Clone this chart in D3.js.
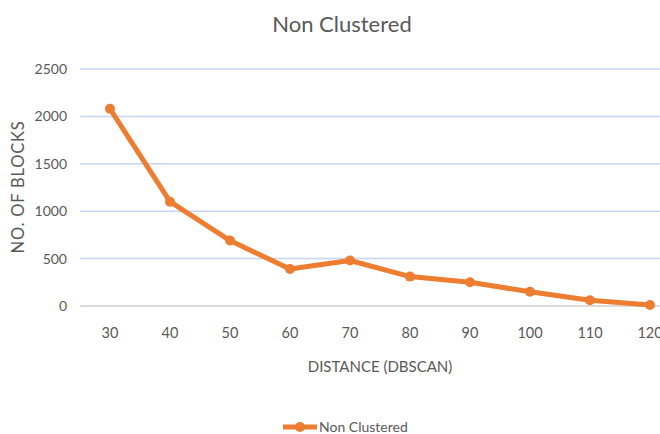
<!DOCTYPE html>
<html><head><meta charset="utf-8">
<script src="https://cdn.jsdelivr.net/npm/d3@7"></script>
<style>body{margin:0;background:#fff;} svg{display:block;} text{font-family:Lato,"Open Sans",sans-serif;fill:#595959;}</style>
</head><body>
<svg id="c" width="660" height="434"></svg>
<script>
const categories = [30,40,50,60,70,80,90,100,110,120];
const values = [2080,1100,690,390,480,310,250,150,60,10];
const yTicks = [0,500,1000,1500,2000,2500];
const seriesName = "Non Clustered";

const svg = d3.select("#c");
const color = "#ED7D31";
const x = d3.scalePoint().domain(categories).range([110,650]);
const y = d3.scaleLinear().domain([0,2500]).range([306,69]);

// gridlines
svg.append("g").selectAll("line").data(yTicks).join("line")
  .attr("x1",80).attr("x2",660)
  .attr("y1",d=>y(d)).attr("y2",d=>y(d))
  .attr("stroke",d=>d===0?"#d0d0d0":"#c7d4ef").attr("stroke-width",1.5);

// y tick labels
svg.append("g").selectAll("text").data(yTicks).join("text")
  .attr("x",67).attr("y",d=>y(d)).attr("dy","0.35em")
  .attr("text-anchor","end").attr("font-size",14).text(d=>d);

// x tick labels
svg.append("g").selectAll("text").data(categories).join("text")
  .attr("x",d=>x(d)).attr("y",333).attr("dy","0.35em")
  .attr("text-anchor","middle").attr("font-size",14.5).text(d=>d);

// line
const line = d3.line().x((d,i)=>x(categories[i])).y(d=>y(d));
svg.append("path").datum(values).attr("d",line)
  .attr("fill","none").attr("stroke",color).attr("stroke-width",5).attr("stroke-linejoin","round");
svg.append("g").selectAll("circle").data(values).join("circle")
  .attr("cx",(d,i)=>x(categories[i])).attr("cy",d=>y(d)).attr("r",5).attr("fill",color);

// title
svg.append("text").attr("x",342).attr("y",24).attr("dy","0.35em").attr("text-anchor","middle")
  .attr("font-size",22).text(seriesName);

// axis titles
svg.append("text").attr("transform","translate(18,187) rotate(-90)").attr("dy","0.35em")
  .attr("text-anchor","middle").attr("font-size",16.5).attr("letter-spacing",0.8).text("NO. OF BLOCKS");
svg.append("text").attr("x",380).attr("y",367).attr("dy","0.35em").attr("text-anchor","middle")
  .attr("font-size",15).text("DISTANCE (DBSCAN)");

// legend
const lg = svg.append("g");
lg.append("line").attr("x1",283).attr("x2",317).attr("y1",427).attr("y2",427).attr("stroke",color).attr("stroke-width",5);
lg.append("circle").attr("cx",300).attr("cy",427).attr("r",5).attr("fill",color);
lg.append("text").attr("x",319).attr("y",427).attr("dy","0.35em").attr("font-size",14).text(seriesName);
</script>
</body></html>
